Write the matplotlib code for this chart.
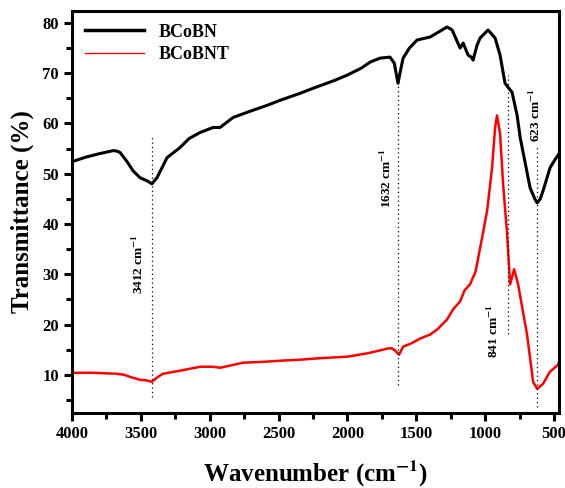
import matplotlib
matplotlib.use("Agg")
import matplotlib.pyplot as plt
from matplotlib.ticker import MultipleLocator
from matplotlib.lines import Line2D

plt.rcParams['font.family'] = 'Liberation Serif'
plt.rcParams['font.weight'] = 'bold'
plt.rcParams['mathtext.fontset'] = 'stix'
plt.rcParams['mathtext.default'] = 'bf'

# BCoBN (black)
wn_bcobn = [4000, 3900, 3800, 3700, 3673, 3650, 3600, 3557, 3506, 3455, 3420, 3383, 3350,
            3310, 3216, 3150, 3070, 2976, 2925, 2830, 2700, 2584, 2490, 2344, 2250,
            2100, 2003, 1900, 1836, 1763, 1691, 1660, 1633, 1615, 1596, 1550, 1495,
            1400, 1313, 1277, 1240, 1182, 1160, 1124, 1100, 1088, 1060,
            1037, 979, 928, 892, 856, 805, 768, 746, 674, 640, 623, 600, 580, 529, 500, 464]
tr_bcobn = [52.4, 53.3, 54.0, 54.6, 54.5, 54.2, 52.4, 50.6, 49.2, 48.6, 48.0, 49.2, 51.0,
            53.2, 55.2, 57.0, 58.2, 59.2, 59.2, 61.2, 62.5, 63.6, 64.6, 66.0, 67.0,
            68.5, 69.6, 71.0, 72.2, 73.0, 73.2, 72.0, 68.0, 70.5, 73.0, 75.0, 76.6,
            77.2, 78.6, 79.2, 78.6, 75.0, 76.0, 73.6, 73.2, 72.6, 75.5,
            77.0, 78.6, 77.0, 73.6, 68.0, 66.2, 61.6, 57.2, 47.2, 45.0, 44.2, 45.0, 46.6, 51.2, 52.5, 54.0]

# BCoBNT (red)
wn_bcobnt = [4000, 3850, 3673, 3620, 3580, 3506, 3460, 3420, 3380, 3340, 3200, 3070, 2976,
             2925, 2758, 2600, 2490, 2344, 2200, 2003, 1850, 1712, 1680, 1654, 1625,
             1596, 1540, 1473, 1400, 1349, 1277, 1233, 1182, 1150, 1110, 1070, 1037, 986, 950, 928, 914,
             892, 870, 841, 819, 790, 761, 696, 652, 623, 580, 530, 471, 457]
tr_bcobnt = [10.4, 10.4, 10.2, 10.0, 9.6, 9.0, 8.9, 8.6, 9.5, 10.2, 10.9, 11.6, 11.6,
             11.4, 12.4, 12.6, 12.8, 13.0, 13.3, 13.6, 14.3, 15.2, 15.3, 14.8, 14.0,
             15.6, 16.2, 17.2, 18.0, 19.0, 21.0, 23.0, 24.6, 26.8, 28.0, 30.5, 35.2, 42.6, 51.2, 59.2, 61.6,
             58.0, 48.0, 38.0, 28.0, 31.0, 28.0, 18.0, 8.6, 7.2, 8.2, 10.6, 12.0, 13.2]

# marked bands
band_labels = ['3412 cm$^{-1}$', '1632 cm$^{-1}$', '841 cm$^{-1}$', '623 cm$^{-1}$']
band_x = [3420, 1632, 835, 623]
band_y0 = [5.6, 8.0, 18.2, 3.6]
band_y1 = [57.6, 68.0, 69.6, 55.6]
label_x = [3521, 1720, 943, 638]
label_y = [32.0, 49.2, 18.6, 61.6]

fig = plt.figure(figsize=(5.65, 4.88), dpi=100)
ax = fig.add_axes([0.1274, 0.1537, 0.862, 0.824])

ax.plot(wn_bcobn, tr_bcobn, color='black', lw=2.2)
ax.plot(wn_bcobnt, tr_bcobnt, color='red', lw=1.8)

for i in range(len(band_x)):
    ax.plot([band_x[i], band_x[i]], [band_y0[i], band_y1[i]], color='black', lw=0.9,
            linestyle=(0, (1, 2.5)))
    ax.text(label_x[i], label_y[i], band_labels[i], rotation=90, ha='center', va='center',
            fontsize=9.5, fontweight='bold')

ax.set_xlim(4000, 464)
ax.set_ylim(2.4, 82.4)
ax.xaxis.set_major_locator(MultipleLocator(500))
ax.xaxis.set_minor_locator(MultipleLocator(250))
ax.yaxis.set_major_locator(MultipleLocator(10))
ax.yaxis.set_minor_locator(MultipleLocator(5))
ax.set_yticks([10, 20, 30, 40, 50, 60, 70, 80])
ax.tick_params(which='major', direction='out', length=6, width=2.2, labelsize=12)
ax.tick_params(which='minor', direction='out', length=4, width=2.2)
for sp in ax.spines.values():
    sp.set_linewidth(2.2)

ax.set_xlabel('Wavenumber (cm$^{-1}$)', fontsize=18, fontweight='bold', labelpad=12)
ax.set_ylabel('Transmittance (%)', fontsize=18, fontweight='bold', labelpad=6)

handles = [Line2D([], [], color='black', lw=2.5), Line2D([], [], color='red', lw=1.0)]
ax.legend(handles, ['BCoBN', 'BCoBNT'], loc='upper left', frameon=False,
          handlelength=3.3, borderaxespad=0.3, labelspacing=0.3,
          prop={'weight': 'bold', 'size': 13})

fig.savefig('out.png', dpi=100)
